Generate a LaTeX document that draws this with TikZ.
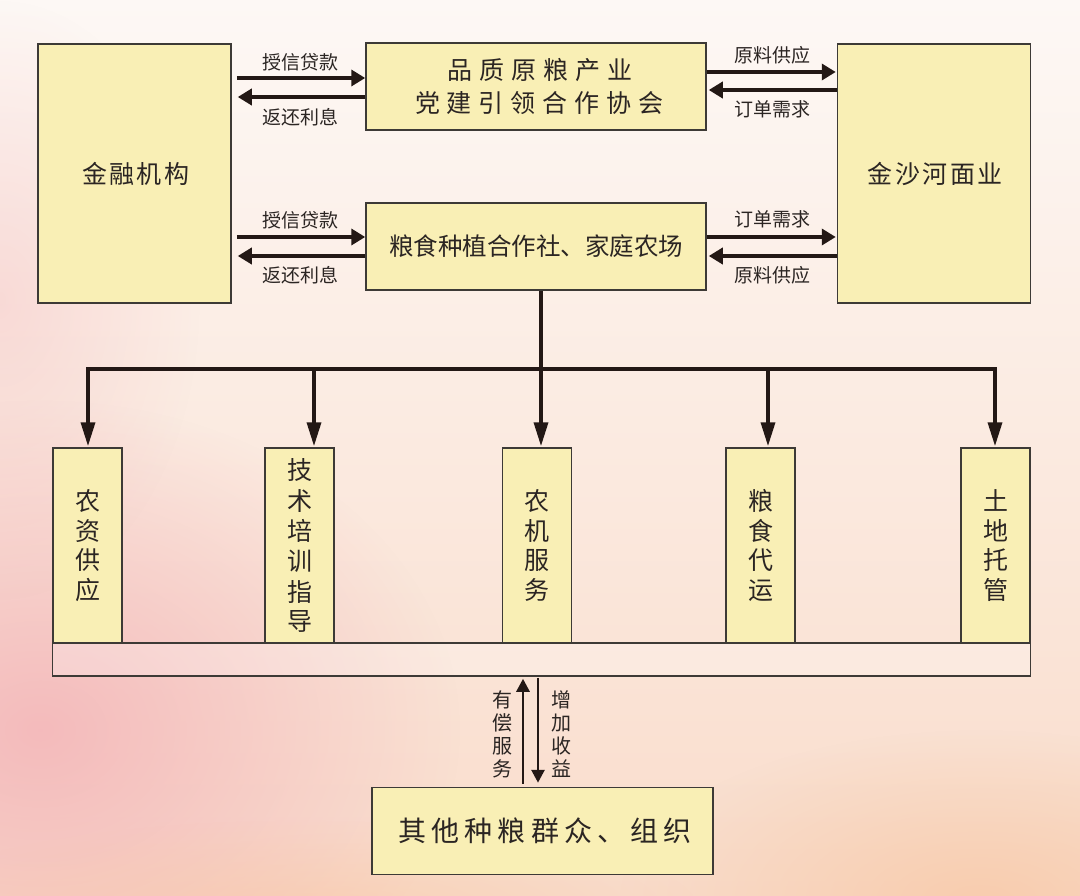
\documentclass[tikz,border=0pt]{standalone}
\usepackage{fontspec}
\usetikzlibrary{arrows.meta,fadings}
\newfontfamily\cjk{Noto Sans CJK SC}
\newfontfamily\cjkA[LetterSpace=28]{Noto Sans CJK SC}
\newfontfamily\cjkB[LetterSpace=10]{Noto Sans CJK SC}
\newfontfamily\cjkD[LetterSpace=18]{Noto Sans CJK SC}
\newcommand\fAssoc{\cjkA\fontsize{25}{33}\selectfont}
\newcommand\fSide{\cjkB\fontsize{25}{30}\selectfont}
\newcommand\fCoop{\cjk\fontsize{24.5}{30}\selectfont}
\newcommand\fGrp{\cjkD\fontsize{28}{32}\selectfont}
\newcommand\fVert{\cjk\fontsize{25}{29.5}\selectfont}
\newcommand\fLbl{\cjk\fontsize{19}{22}\selectfont}
\newcommand\fVlbl{\cjk\fontsize{20}{23}\selectfont}
\definecolor{boxfill}{HTML}{F9EFB5}
\definecolor{boxline}{HTML}{3D3A36}
\definecolor{ink}{HTML}{231815}
\definecolor{txt}{HTML}{2B2523}
\definecolor{bgtop}{HTML}{FDF8F5}
\definecolor{bgmid}{HTML}{FBEDE7}
\definecolor{bgbot}{HTML}{F9DCCB}
\definecolor{pinkc}{HTML}{F3B4B8}
\definecolor{peachc}{HTML}{F8C6A2}
\tikzfading[name=softblob, inner color=transparent!0, outer color=transparent!100]
\tikzset{
  box/.style={draw=boxline, line width=1.5pt, fill=boxfill, inner sep=0pt, text=txt},
  vbox/.style={box, minimum width=69pt, minimum height=195pt, align=center, font=\fVert},
  arr/.style={draw=ink, line width=3.5pt, -{Triangle[length=14pt,width=16pt]}},
  arrd/.style={draw=ink, line width=3.5pt, line join=miter, -{Triangle[length=24pt,width=14pt]}},
  arrs/.style={draw=ink, line width=2.8pt, -{Triangle[length=13pt,width=13pt]}},
  plain/.style={draw=ink, line width=3.2pt},
  lbl/.style={font=\fLbl, text=txt, inner sep=0pt},
  vlbl/.style={font=\fVlbl, text=txt, inner sep=0pt, align=center},
}
\begin{document}
\begin{tikzpicture}[x=1pt,y=-1pt]
\useasboundingbox (0,0) rectangle (1080,896);
% background
\fill[bgtop] (0,0) rectangle (1080,896);
\shade[top color=bgtop, middle color=bgmid, bottom color=bgbot] (0,0) rectangle (1080,896);
\fill[pinkc, path fading=softblob, opacity=0.85] (40,730) ellipse (420 and 330);
\fill[pinkc, path fading=softblob, opacity=0.35] (0,300) ellipse (200 and 300);
\fill[peachc, path fading=softblob, opacity=0.7] (980,900) ellipse (360 and 170);
\fill[peachc, path fading=softblob, opacity=0.5] (300,910) ellipse (400 and 90);

% top row
\node[box, minimum width=193pt, minimum height=259pt, font=\fSide] (fin) at (134.5,173.5) {\kern2.5pt金融机构};
\node[box, minimum width=193pt, minimum height=259pt, font=\fSide] (jsh) at (934,173.5) {\kern2.5pt金沙河面业};
\node[box, minimum width=340pt, minimum height=87pt, align=center, font=\fAssoc] (assoc) at (536,86.5) {\kern7pt品质原粮产业\\\kern7pt党建引领合作协会};
\node[box, minimum width=340pt, minimum height=87pt, font=\fCoop] (coop) at (536,246.5) {粮食种植合作社、家庭农场};

% bar and service boxes
\node[box, fill=white, fill opacity=0.25, text opacity=1, minimum width=978pt, minimum height=33pt] (bar) at (541.5,659.5) {};
\node[vbox] (b1) at (87.5,545.5) {农\\资\\供\\应};
\node[vbox] (b2) at (299.5,545.5) {\raisebox{-3pt}{\shortstack{技\\[4.5pt]术\\[4.5pt]培\\[4.5pt]训\\[4.5pt]指\\[4.5pt]导}}};
\node[vbox] (b3) at (537,545.5) {农\\机\\服\\务};
\node[vbox] (b4) at (760.5,545.5) {粮\\食\\代\\运};
\node[vbox] (b5) at (995.5,545.5) {土\\地\\托\\管};
\node[box, minimum width=341pt, minimum height=87pt, font=\fGrp] (grp) at (542.5,831) {\kern5pt其他种粮群众、组织};

% horizontal arrows
\coordinate (y1) at (0,78);
\coordinate (y2) at (0,97);
\coordinate (y3) at (0,72);
\coordinate (y4) at (0,90);
\coordinate (y5) at (0,237);
\coordinate (y6) at (0,256);
\draw[arr, shorten <=5pt] (fin.east |- y1) -- (assoc.west |- y1);
\draw[arr, shorten >=6pt] (assoc.west |- y2) -- (fin.east |- y2);
\draw[arr, shorten >=1pt] (assoc.east |- y3) -- (jsh.west |- y3);
\draw[arr, shorten >=2pt] (jsh.west |- y4) -- (assoc.east |- y4);
\draw[arr, shorten <=5pt] (fin.east |- y5) -- (coop.west |- y5);
\draw[arr, shorten >=6pt] (coop.west |- y6) -- (fin.east |- y6);
\draw[arr, shorten >=1pt] (coop.east |- y5) -- (jsh.west |- y5);
\draw[arr, shorten >=2pt] (jsh.west |- y6) -- (coop.east |- y6);

\node[lbl] (l1) at (300,62) {授信贷款};
\node[lbl] (l2) at (300,117) {返还利息};
\node[lbl] (l3) at (772,55) {原料供应};
\node[lbl] (l4) at (772,109) {订单需求};
\node[lbl] (l5) at (300,220) {授信贷款};
\node[lbl] (l6) at (300,275) {返还利息};
\node[lbl] (l7) at (772,219) {订单需求};
\node[lbl] (l8) at (772,275) {原料供应};

% tree
\coordinate (hc) at (541,369);
\coordinate (h1) at (88,369);
\coordinate (h2) at (314,369);
\coordinate (h4) at (768,369);
\coordinate (h5) at (995,369);
\draw[plain] (coop.south -| hc) -- (hc);
\draw[arrd, shorten >=1pt] (hc) -- (hc |- b3.north);
\draw[arrd, shorten >=1pt] (hc) -- (h1) -- (h1 |- b1.north);
\draw[arrd, shorten >=1pt] (hc) -- (h5) -- (h5 |- b5.north);
\draw[arrd, shorten >=1pt] (h2) -- (h2 |- b2.north);
\draw[arrd, shorten >=1pt] (h4) -- (h4 |- b4.north);

% bottom arrows
\coordinate (ux) at (523,0);
\coordinate (dx) at (538,0);
\draw[arrs, shorten <=3pt, shorten >=2pt] (grp.north -| ux) -- (bar.south -| ux);
\draw[arrs, shorten <=1pt, shorten >=4pt] (bar.south -| dx) -- (grp.north -| dx);
\node[vlbl] (l9) at (502,734) {有\\偿\\服\\务};
\node[vlbl] (l10) at (561,734) {增\\加\\收\\益};
\end{tikzpicture}
\end{document}
